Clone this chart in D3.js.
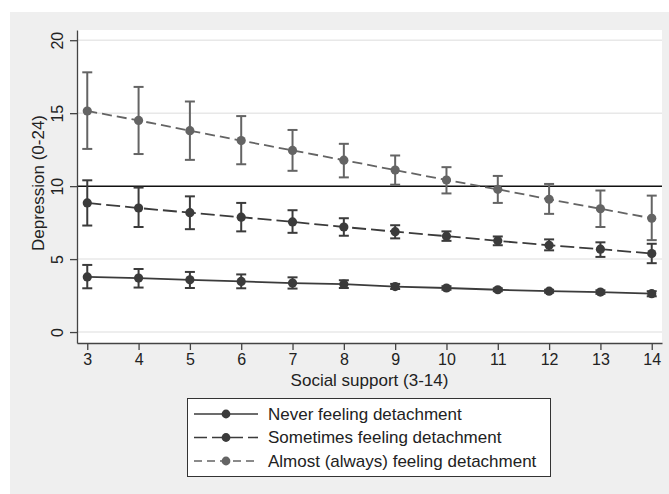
<!DOCTYPE html>
<html>
<head>
<meta charset="utf-8">
<script src="https://cdn.jsdelivr.net/npm/d3@7"></script>
<style>
  body { margin: 0; background: #fff; }
  text { font-family: "Liberation Sans", Arial, sans-serif; fill: #222; }
</style>
</head>
<body>
<div id="chart"></div>
<script>
var support = [3, 4, 5, 6, 7, 8, 9, 10, 11, 12, 13, 14];

var neverMean = [3.78, 3.7, 3.58, 3.47, 3.36, 3.28, 3.12, 3.02, 2.9, 2.8, 2.74, 2.63];
var neverLow  = [3.0, 3.05, 3.02, 3.0, 2.98, 3.02, 2.95, 2.9, 2.8, 2.7, 2.62, 2.45];
var neverHigh = [4.6, 4.32, 4.12, 3.95, 3.75, 3.55, 3.3, 3.14, 3.0, 2.9, 2.86, 2.8];

var someMean = [8.85, 8.5, 8.18, 7.87, 7.55, 7.2, 6.88, 6.57, 6.25, 5.95, 5.68, 5.38];
var someLow  = [7.3, 7.2, 7.05, 6.9, 6.8, 6.6, 6.42, 6.25, 5.95, 5.6, 5.15, 4.72];
var someHigh = [10.4, 9.9, 9.3, 8.85, 8.35, 7.8, 7.32, 6.9, 6.55, 6.35, 6.15, 6.05];

var almostMean = [15.15, 14.5, 13.8, 13.12, 12.45, 11.78, 11.1, 10.42, 9.78, 9.1, 8.45, 7.8];
var almostLow  = [12.55, 12.2, 11.8, 11.5, 11.05, 10.6, 10.1, 9.5, 8.85, 8.1, 7.2, 6.3];
var almostHigh = [17.8, 16.8, 15.8, 14.8, 13.85, 12.9, 12.1, 11.3, 10.7, 10.15, 9.7, 9.35];

var yTicks = [0, 5, 10, 15, 20];
var refLine = 10;
var legendLabels = ["Never feeling detachment", "Sometimes feeling detachment", "Almost (always) feeling detachment"];

var series = [
  { name: legendLabels[0], mean: neverMean, low: neverLow, high: neverHigh, color: "#3b3b3b", dash: null, legDash: null },
  { name: legendLabels[1], mean: someMean, low: someLow, high: someHigh, color: "#3b3b3b", dash: "14,5", legDash: "13,5" },
  { name: legendLabels[2], mean: almostMean, low: almostLow, high: almostHigh, color: "#646464", dash: "10,5", legDash: "8,5" }
];

var width = 669, height = 494;
var plot = { left: 77, right: 662, top: 30, bottom: 343 };
var fontSize = "17px";

var svg = d3.select("#chart").append("svg")
  .attr("width", width)
  .attr("height", height);

// outer grey panel
svg.append("rect")
  .attr("x", 10).attr("y", 12)
  .attr("width", width - 10).attr("height", height - 12)
  .attr("fill", "#efefef");

svg.append("rect")
  .attr("x", plot.left).attr("y", plot.top)
  .attr("width", plot.right - plot.left).attr("height", plot.bottom - plot.top)
  .attr("fill", "#fff");

var x = d3.scaleLinear().domain([2.8, 14.2]).range([plot.left, plot.right]);
var y = d3.scaleLinear().domain([-0.75, 20.7]).range([plot.bottom, plot.top]);

// grid lines
svg.append("g").selectAll("line")
  .data(yTicks.filter(d => d !== refLine))
  .enter().append("line")
  .attr("x1", plot.left).attr("x2", plot.right)
  .attr("y1", d => y(d)).attr("y2", d => y(d))
  .attr("stroke", "#e8e8e8").attr("stroke-width", 1.5);

// reference line
svg.append("line")
  .attr("x1", plot.left).attr("x2", plot.right)
  .attr("y1", y(refLine)).attr("y2", y(refLine))
  .attr("stroke", "#111").attr("stroke-width", 1.5);

// axes
var xAxis = svg.append("g")
  .attr("transform", "translate(0," + plot.bottom + ")")
  .call(d3.axisBottom(x).tickValues(support).tickSize(7).tickPadding(4).tickSizeOuter(0));
xAxis.selectAll("text").style("font-size", "16px");

var yAxis = svg.append("g")
  .attr("transform", "translate(" + plot.left + ",0)")
  .call(d3.axisLeft(y).tickValues(yTicks).tickSize(7).tickPadding(4).tickSizeOuter(0));
yAxis.selectAll("text")
  .style("font-size", "16px")
  .attr("text-anchor", "middle")
  .attr("x", null).attr("dy", null)
  .attr("transform", "translate(-14,0) rotate(-90)");

[xAxis, yAxis].forEach(a => {
  a.select(".domain").attr("stroke", "#444").attr("stroke-width", 1.3);
  a.selectAll(".tick line").attr("stroke", "#444").attr("stroke-width", 1.3);
});

// axis titles
svg.append("text")
  .attr("x", (plot.left + plot.right) / 2).attr("y", 386)
  .attr("text-anchor", "middle")
  .style("font-size", fontSize)
  .text("Social support (3-14)");

svg.append("text")
  .attr("transform", "translate(44,183) rotate(-90)")
  .attr("text-anchor", "middle")
  .style("font-size", fontSize)
  .text("Depression (0-24)");

// series
var line = d3.line().x(d => x(d.x)).y(d => y(d.m));

series.slice().reverse().forEach(s => {
  var pts = support.map((v, i) => ({ x: v, m: s.mean[i], lo: s.low[i], hi: s.high[i] }));
  var g = svg.append("g");

  g.append("path")
    .datum(pts)
    .attr("d", line)
    .attr("fill", "none")
    .attr("stroke", s.color)
    .attr("stroke-width", 1.8)
    .attr("stroke-dasharray", s.dash);

  var bars = g.selectAll("g.err").data(pts).enter().append("g");
  bars.append("line")
    .attr("x1", d => x(d.x)).attr("x2", d => x(d.x))
    .attr("y1", d => y(d.lo)).attr("y2", d => y(d.hi))
    .attr("stroke", s.color).attr("stroke-width", 2);
  [d => d.lo, d => d.hi].forEach(f => {
    bars.append("line")
      .attr("x1", d => x(d.x) - 5).attr("x2", d => x(d.x) + 5)
      .attr("y1", d => y(f(d))).attr("y2", d => y(f(d)))
      .attr("stroke", s.color).attr("stroke-width", 2);
  });

  g.selectAll("circle").data(pts).enter().append("circle")
    .attr("cx", d => x(d.x)).attr("cy", d => y(d.m))
    .attr("r", 4.6)
    .attr("fill", s.color);
});

// legend
var legend = svg.append("g");
legend.append("rect")
  .attr("x", 187.5).attr("y", 398.5)
  .attr("width", 363).attr("height", 78)
  .attr("fill", "#fff").attr("stroke", "#333").attr("stroke-width", 1);

var rowY = d3.scalePoint().domain(legendLabels).range([414, 461]);

series.forEach(s => {
  var ly = rowY(s.name);
  legend.append("line")
    .attr("x1", 194).attr("x2", 258)
    .attr("y1", ly).attr("y2", ly)
    .attr("stroke", s.color).attr("stroke-width", 1.6)
    .attr("stroke-dasharray", s.legDash);
  legend.append("circle")
    .attr("cx", 226).attr("cy", ly).attr("r", 4.4)
    .attr("fill", s.color);
  legend.append("text")
    .attr("x", 268).attr("y", ly).attr("dy", "0.35em")
    .style("font-size", fontSize)
    .text(s.name);
});
</script>
</body>
</html>
